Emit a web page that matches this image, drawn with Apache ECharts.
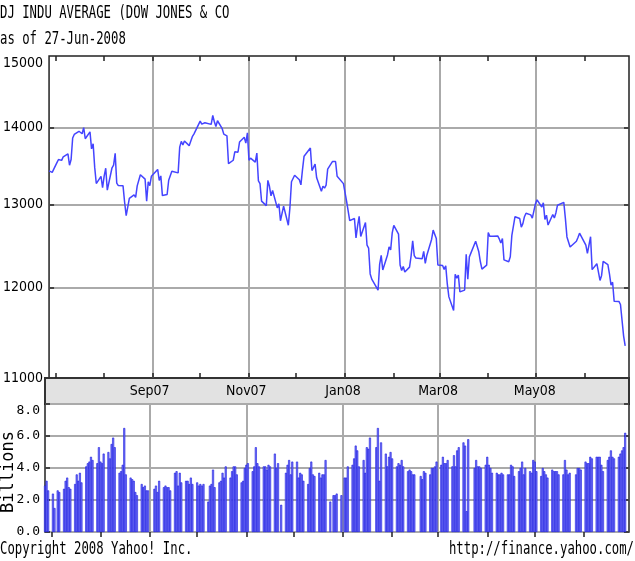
<!DOCTYPE html>
<html>
<head>
<meta charset="utf-8">
<script src="https://cdn.jsdelivr.net/npm/echarts@6/dist/echarts.min.js"></script>
<style>html,body{margin:0;padding:0;background:#fff}#c{width:635px;height:561px}</style>
</head>
<body>
<div id="c"></div>
<script>
// ---- data ----
const dates = [
'2007-06-27','2007-06-28','2007-06-29',
'2007-07-02','2007-07-03','2007-07-05','2007-07-06','2007-07-09','2007-07-10','2007-07-11','2007-07-12','2007-07-13','2007-07-16','2007-07-17','2007-07-18','2007-07-19','2007-07-20','2007-07-23','2007-07-24','2007-07-25','2007-07-26','2007-07-27','2007-07-30','2007-07-31',
'2007-08-01','2007-08-02','2007-08-03','2007-08-06','2007-08-07','2007-08-08','2007-08-09','2007-08-10','2007-08-13','2007-08-14','2007-08-15','2007-08-16','2007-08-17','2007-08-20','2007-08-21','2007-08-22','2007-08-23','2007-08-24','2007-08-27','2007-08-28','2007-08-29','2007-08-30','2007-08-31',
'2007-09-04','2007-09-05','2007-09-06','2007-09-07','2007-09-10','2007-09-11','2007-09-12','2007-09-13','2007-09-14','2007-09-17','2007-09-18','2007-09-19','2007-09-20','2007-09-21','2007-09-24','2007-09-25','2007-09-26','2007-09-27','2007-09-28',
'2007-10-01','2007-10-02','2007-10-03','2007-10-04','2007-10-05','2007-10-08','2007-10-09','2007-10-10','2007-10-11','2007-10-12','2007-10-15','2007-10-16','2007-10-17','2007-10-18','2007-10-19','2007-10-22','2007-10-23','2007-10-24','2007-10-25','2007-10-26','2007-10-29','2007-10-30','2007-10-31',
'2007-11-01','2007-11-02','2007-11-05','2007-11-06','2007-11-07','2007-11-08','2007-11-09','2007-11-12','2007-11-13','2007-11-14','2007-11-15','2007-11-16','2007-11-19','2007-11-20','2007-11-21','2007-11-23','2007-11-26','2007-11-27','2007-11-28','2007-11-29','2007-11-30',
'2007-12-03','2007-12-04','2007-12-05','2007-12-06','2007-12-07','2007-12-10','2007-12-11','2007-12-12','2007-12-13','2007-12-14','2007-12-17','2007-12-18','2007-12-19','2007-12-20','2007-12-21','2007-12-24','2007-12-26','2007-12-27','2007-12-28','2007-12-31',
'2008-01-02','2008-01-03','2008-01-04','2008-01-07','2008-01-08','2008-01-09','2008-01-10','2008-01-11','2008-01-14','2008-01-15','2008-01-16','2008-01-17','2008-01-18','2008-01-22','2008-01-23','2008-01-24','2008-01-25','2008-01-28','2008-01-29','2008-01-30','2008-01-31',
'2008-02-01','2008-02-04','2008-02-05','2008-02-06','2008-02-07','2008-02-08','2008-02-11','2008-02-12','2008-02-13','2008-02-14','2008-02-15','2008-02-19','2008-02-20','2008-02-21','2008-02-22','2008-02-25','2008-02-26','2008-02-27','2008-02-28','2008-02-29',
'2008-03-03','2008-03-04','2008-03-05','2008-03-06','2008-03-07','2008-03-10','2008-03-11','2008-03-12','2008-03-13','2008-03-14','2008-03-17','2008-03-18','2008-03-19','2008-03-20','2008-03-24','2008-03-25','2008-03-26','2008-03-27','2008-03-28','2008-03-31',
'2008-04-01','2008-04-02','2008-04-03','2008-04-04','2008-04-07','2008-04-08','2008-04-09','2008-04-10','2008-04-11','2008-04-14','2008-04-15','2008-04-16','2008-04-17','2008-04-18','2008-04-21','2008-04-22','2008-04-23','2008-04-24','2008-04-25','2008-04-28','2008-04-29','2008-04-30',
'2008-05-01','2008-05-02','2008-05-05','2008-05-06','2008-05-07','2008-05-08','2008-05-09','2008-05-12','2008-05-13','2008-05-14','2008-05-15','2008-05-16','2008-05-19','2008-05-20','2008-05-21','2008-05-22','2008-05-23','2008-05-27','2008-05-28','2008-05-29','2008-05-30',
'2008-06-02','2008-06-03','2008-06-04','2008-06-05','2008-06-06','2008-06-09','2008-06-10','2008-06-11','2008-06-12','2008-06-13','2008-06-16','2008-06-17','2008-06-18','2008-06-19','2008-06-20','2008-06-23','2008-06-24','2008-06-25','2008-06-26','2008-06-27'
];
const closes = [
13428,13422,13409,
13535,13577,13565,13612,13650,13502,13577,13861,13908,13951,13972,13918,14000,13851,13943,13716,13785,13474,13266,13359,13212,
13362,13463,13182,13469,13504,13658,13271,13240,13237,13029,12861,12846,13079,13121,13091,13236,13236,13379,13322,13041,13289,13239,13358,
13448,13306,13364,13113,13127,13308,13292,13425,13442,13403,13739,13816,13767,13820,13759,13779,13878,13913,13896,
14088,14047,14044,14066,14066,14044,14165,14079,14015,14093,13985,13913,13893,13889,13522,13567,13677,13675,13672,13807,13870,13793,13930,
13567,13595,13543,13661,13300,13266,13043,12987,13307,13231,13110,13177,12958,13010,12799,12981,12744,12958,13289,13312,13372,
13315,13249,13445,13620,13626,13727,13433,13474,13518,13339,13168,13233,13207,13246,13451,13550,13551,13359,13366,13265,
13044,13057,12800,12827,12589,12736,12853,12606,12778,12501,12467,12160,12099,11971,12271,12379,12207,12384,12480,12443,12650,
12743,12635,12265,12200,12248,12182,12240,12374,12553,12377,12348,12338,12427,12284,12381,12570,12684,12694,12582,12266,
12258,12213,12254,12040,11894,11740,12156,12111,12146,11951,11972,12392,12099,12361,12549,12533,12422,12303,12216,12263,
12655,12608,12627,12610,12613,12577,12527,12582,12326,12303,12362,12620,12621,12849,12826,12721,12763,12849,12892,12872,12832,12820,
13011,13059,12970,13021,12815,12867,12746,12877,12833,12899,12992,12986,13028,12828,12601,12625,12480,12548,12594,12647,12638,
12503,12402,12391,12604,12210,12280,12289,12084,12142,12307,12269,12160,12030,12063,11843,11842,11807,11812,11453,11346
];
// volume in billions
const volumes = [
2.9,3.2,2.6,
2.4,1.5,2.6,2.5,2.7,3.2,3.4,2.8,2.7,3.0,3.6,3.2,3.7,3.1,4.1,4.3,4.4,4.7,4.5,4.3,5.3,
4.4,4.3,4.9,5.0,4.6,5.5,5.9,5.3,3.7,3.8,4.2,6.5,3.6,3.4,3.3,3.2,2.5,2.3,3.0,2.8,2.9,2.6,2.6,
2.7,2.9,2.5,3.2,2.8,2.9,2.8,2.8,2.6,3.7,3.8,2.9,3.7,3.1,3.2,3.2,3.0,3.4,3.0,
3.1,2.9,3.0,2.9,3.0,1.9,2.9,3.0,3.9,2.8,3.1,3.2,3.7,3.4,4.1,3.4,3.8,4.1,4.1,3.6,3.1,3.2,4.0,
4.2,4.3,3.8,4.1,5.3,4.3,4.1,4.1,4.1,3.9,4.2,4.1,4.9,4.0,4.3,1.7,3.7,4.2,4.5,3.6,4.4,
4.4,3.4,3.7,3.6,3.2,3.0,4.0,4.4,3.6,3.5,3.7,3.4,3.6,3.6,4.5,1.9,2.3,2.3,2.4,2.3,
3.4,3.4,4.1,4.2,4.6,5.4,5.1,4.1,4.5,3.7,5.3,5.2,5.9,5.3,6.5,3.2,5.6,4.9,4.1,4.7,5.0,
4.6,4.1,4.3,4.2,4.5,4.1,3.8,3.9,3.8,3.6,3.6,3.5,3.3,3.8,3.7,3.6,4.0,4.0,4.1,4.4,
4.2,4.7,4.3,4.3,4.5,4.1,4.8,4.1,5.1,5.3,5.6,5.4,1.3,5.8,4.0,4.5,4.1,4.1,4.0,4.2,
4.7,4.2,4.0,3.7,3.7,3.6,3.6,3.7,3.6,3.6,3.6,4.2,4.1,3.5,3.8,4.0,4.4,3.6,4.0,3.8,3.7,4.5,
4.4,3.8,3.5,4.0,3.8,3.6,3.4,3.9,3.8,3.8,3.8,3.6,3.6,4.5,3.9,3.6,3.7,3.6,4.0,4.0,3.9,
4.4,4.3,4.3,4.7,4.6,4.7,4.7,4.7,4.2,3.8,4.5,4.7,5.1,4.7,4.6,4.7,4.9,5.1,5.3,6.2
];
const monthTicks = ['2007-07-01','2007-08-01','2007-09-01','2007-10-01','2007-11-01','2007-12-01','2008-01-01','2008-02-01','2008-03-01','2008-04-01','2008-05-01','2008-06-01'];
const labelMonths = ['2007-09-01','2007-11-01','2008-01-01','2008-03-01','2008-05-01'];
const priceLabels = [11000,12000,13000,14000,15000];
const priceGrid = [12000,13000,14000];
const monthNames = ['Jan','Feb','Mar','Apr','May','Jun','Jul','Aug','Sep','Oct','Nov','Dec'];
const titleLine1 = 'DJ INDU AVERAGE (DOW JONES & CO';
const titleLine2 = 'as of 27-Jun-2008';
const footLeft = 'Copyright 2008 Yahoo! Inc.';
const footRight = 'http://finance.yahoo.com/';

// ---- build ----
function ts(s){const p=s.split('-').map(Number);return Date.UTC(p[0],p[1]-1,p[2]);}
const xMin = Date.UTC(2007,5,27,0);
const xMax = Date.UTC(2008,5,29,10);
const allTicks = monthTicks.map(ts);
const oddTicks = labelMonths.map(ts);
const lineData = dates.map((d,i)=>[ts(d), closes[i]]);
const volData = dates.map((d,i)=>[ts(d), volumes[i]]);

const gridCol = '#aaaaaa';
const axisCol = '#222';
const condFont = '"Liberation Sans Narrow","DejaVu Sans Condensed","DejaVu Sans",sans-serif';
const monoFont = '"DejaVu Sans Mono","Liberation Mono",monospace';

function tAxis(gi, pos, opts){
  return Object.assign({
    type:'value', gridIndex:gi, position:pos, min:xMin, max:xMax, scale:true,
    axisLine:{show:false}, axisLabel:{show:false},
    axisTick:{show:false}, splitLine:{show:false}, minorTick:{show:false}
  }, opts);
}
const tickOpt = {show:true, inside:true, length:5, customValues:allTicks, lineStyle:{color:axisCol, width:1.5}};

const option = {
  animation:false,
  backgroundColor:'#ffffff',
  grid:[
    {left:45, top:56, width:584, height:322, show:true, borderColor:axisCol, borderWidth:1.5, backgroundColor:'#fff'},
    {left:45, top:378, width:584, height:26, show:true, borderColor:'#333', borderWidth:2, backgroundColor:'#e2e2e2'},
    {left:45, top:404, width:584, height:128, show:true, borderColor:axisCol, borderWidth:1.5, backgroundColor:'#fff'}
  ],
  xAxis:[
    tAxis(0,'bottom',{axisTick:tickOpt}),
    tAxis(0,'top',{axisTick:tickOpt}),
    tAxis(0,'bottom',{axisTick:{show:false, customValues:oddTicks}, splitLine:{show:true, lineStyle:{color:gridCol, width:2}}}),
    tAxis(1,'bottom',{axisLabel:{show:true, inside:true, margin:6, customValues:oddTicks, color:'#000', fontSize:14, fontFamily:condFont,
       formatter:function(v){const d=new Date(v);return monthNames[d.getUTCMonth()]+String(d.getUTCFullYear()).slice(2);}}}),
    tAxis(2,'top',{axisTick:tickOpt}),
    tAxis(2,'bottom',{axisTick:{show:false, customValues:oddTicks}, splitLine:{show:true, lineStyle:{color:gridCol, width:2}}})
  ],
  yAxis:[
    {type:'log', logBase:10, gridIndex:0, position:'left', min:11000, max:15000,
     axisLine:{show:false},
     axisTick:{show:true, inside:true, length:5, customValues:priceGrid, lineStyle:{color:axisCol, width:1.5}},
     axisLabel:{show:true, customValues:priceLabels, margin:6, color:'#000', fontSize:14, fontFamily:condFont, verticalAlignMaxLabel:'top',
       formatter:function(v){return String(Math.round(v));}},
     splitLine:{show:true, lineStyle:{color:gridCol, width:2}}, minorTick:{show:false}, minorSplitLine:{show:false}},
    {type:'log', logBase:10, gridIndex:0, position:'right', min:11000, max:15000,
     axisLine:{show:false},
     axisTick:{show:true, inside:true, length:5, customValues:priceGrid, lineStyle:{color:axisCol, width:1.5}},
     axisLabel:{show:false}, splitLine:{show:false}},
    {type:'value', gridIndex:1, min:0, max:1, show:false},
    {type:'value', gridIndex:2, position:'left', min:0, max:8, interval:2,
     axisLine:{show:false},
     axisTick:{show:true, inside:true, length:5, lineStyle:{color:axisCol, width:1.5}},
     axisLabel:{show:true, margin:5, color:'#000', fontSize:13, fontFamily:monoFont, verticalAlignMaxLabel:'top',
       formatter:function(v){return v.toFixed(1);}},
     splitLine:{show:true, lineStyle:{color:gridCol, width:2}}},
    {type:'value', gridIndex:2, position:'right', min:0, max:8, interval:2,
     axisLine:{show:false},
     axisTick:{show:true, inside:true, length:5, lineStyle:{color:axisCol, width:1.5}},
     axisLabel:{show:false}, splitLine:{show:false}}
  ],
  series:[
    {type:'line', xAxisIndex:0, yAxisIndex:0, data:lineData, showSymbol:false, symbol:'none',
     lineStyle:{color:'#4444ff', width:1.5}, silent:true, z:5},
    {type:'bar', xAxisIndex:5, yAxisIndex:3, data:volData, barWidth:2,
     itemStyle:{color:'#7777f6', borderColor:'#1a1ae0', borderWidth:0.6}, silent:true, z:5}
  ],
  graphic:[
    {type:'text', x:0, y:13, scaleX:0.683, style:{text:titleLine1, fontSize:18, fontFamily:monoFont, fill:'#000', textAlign:'left', textVerticalAlign:'middle'}},
    {type:'text', x:0, y:39, scaleX:0.683, style:{text:titleLine2, fontSize:18, fontFamily:monoFont, fill:'#000', textAlign:'left', textVerticalAlign:'middle'}},
    {type:'text', x:0, y:549, scaleX:0.683, style:{text:footLeft, fontSize:18, fontFamily:monoFont, fill:'#000', textAlign:'left', textVerticalAlign:'middle'}},
    {type:'text', x:634, y:549, scaleX:0.683, style:{text:footRight, fontSize:18, fontFamily:monoFont, fill:'#000', textAlign:'right', textVerticalAlign:'middle'}},
    {type:'text', x:9, y:472, rotation:Math.PI/2, style:{text:'Billions', fontSize:17, fontFamily:monoFont, fill:'#000', textAlign:'center', textVerticalAlign:'middle'}}
  ]
};
const chart = echarts.init(document.getElementById('c'), null, {renderer:'canvas'});
chart.setOption(option);
</script>
</body>
</html>
